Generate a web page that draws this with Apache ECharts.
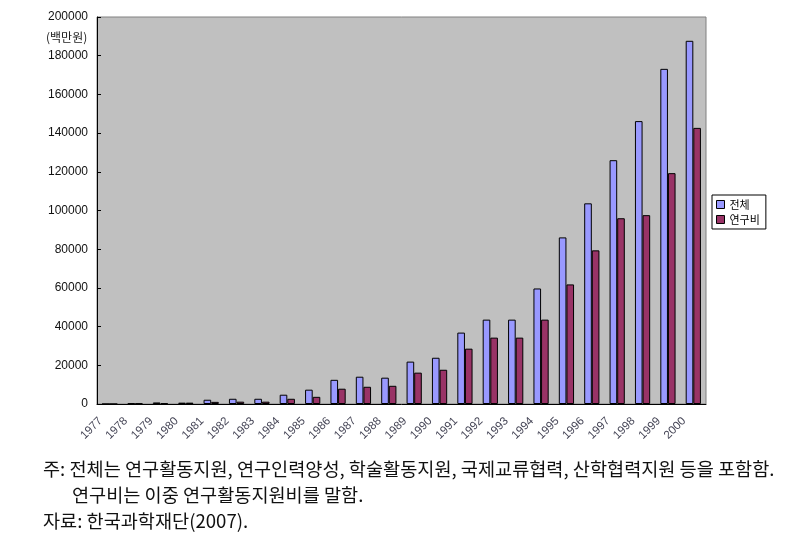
<!DOCTYPE html>
<html>
<head>
<meta charset="utf-8">
<script src="https://cdn.jsdelivr.net/npm/echarts@6/dist/echarts.min.js"></script>
<style>
html,body{margin:0;padding:0;background:#fff;}
#chart{width:800px;height:548px;}
</style>
</head>
<body>
<div id="chart"></div>
<script>
var years = ['1977','1978','1979','1980','1981','1982','1983','1984','1985','1986','1987','1988','1989','1990','1991','1992','1993','1994','1995','1996','1997','1998','1999','2000'];
var totalValues = [0, 400, 800, 700, 2200, 2700, 2700, 4800, 7400, 12500, 14100, 13600, 21900, 23900, 36900, 43600, 43600, 59700, 86100, 103700, 126000, 146200, 173200, 187700];
var researchValues = [0, 300, 400, 700, 1100, 1200, 1200, 2700, 3700, 7900, 8900, 9400, 16200, 17700, 28600, 34300, 34300, 43600, 61800, 79400, 96000, 97600, 119300, 142700];
var seriesNames = ['전체', '연구비'];
var unitLabel = '(백만원)';
var noteLines = [
  '주: 전체는 연구활동지원, 연구인력양성, 학술활동지원, 국제교류협력, 산학협력지원 등을 포함함.',
  '연구비는 이중 연구활동지원비를 말함.',
  '자료: 한국과학재단(2007).'
];

var chart = echarts.init(document.getElementById('chart'), null, {renderer: 'canvas'});
var kr = '"Noto Sans CJK KR", sans-serif';
var num = '"Liberation Sans", Arial, sans-serif';

chart.setOption({
  animation: false,
  backgroundColor: '#ffffff',
  grid: {
    left: 97, top: 17, right: 94, bottom: 144,
    show: true, backgroundColor: '#C0C0C0', borderColor: '#808080', borderWidth: 1
  },
  legend: {
    orient: 'vertical',
    left: 712, top: 195,
    data: seriesNames,
    backgroundColor: '#ffffff',
    borderColor: '#000000', borderWidth: 1,
    padding: [4, 6, 4, 4],
    itemWidth: 8, itemHeight: 8, itemGap: 4,
    icon: 'rect',
    itemStyle: {borderColor: '#000000', borderWidth: 1},
    textStyle: {fontFamily: kr, fontSize: 11, color: '#000'}
  },
  xAxis: {
    type: 'category',
    data: years,
    axisLine: {lineStyle: {color: '#000', width: 1}},
    axisTick: {inside: true, length: 4, lineStyle: {color: '#000'}},
    axisLabel: {
      interval: 0, rotate: 45, margin: 6,
      fontFamily: num, fontSize: 11.5, color: '#445',
      padding: [0, 13, 0, 0]
    },
    splitLine: {show: false}
  },
  yAxis: {
    type: 'value',
    min: 0, max: 200000, interval: 20000,
    axisLine: {show: true, lineStyle: {color: '#000', width: 1}},
    axisTick: {show: true, inside: true, length: 4, lineStyle: {color: '#000'}},
    axisLabel: {
      margin: 9, fontFamily: num, fontSize: 12, color: '#111',
      formatter: function (v) { return String(v); }
    },
    splitLine: {show: false}
  },
  series: [
    {
      name: seriesNames[0], type: 'bar', data: totalValues,
      barGap: '0%', barCategoryGap: '40%',
      itemStyle: {color: '#9999FF', borderColor: '#000', borderWidth: 1}
    },
    {
      name: seriesNames[1], type: 'bar', data: researchValues,
      barGap: '0%', barCategoryGap: '40%',
      itemStyle: {color: '#993366', borderColor: '#000', borderWidth: 1}
    }
  ],
  graphic: [
    {type: 'text', left: 46, top: 31, style: {text: unitLabel, fontFamily: kr, fontSize: 12, fill: '#222'}},
    {type: 'text', left: 43, top: 460, style: {text: noteLines[0], fontFamily: kr, fontSize: 18.6, fill: '#111'}},
    {type: 'text', left: 72, top: 486, style: {text: noteLines[1], fontFamily: kr, fontSize: 18.6, fill: '#111'}},
    {type: 'text', left: 43, top: 512, style: {text: noteLines[2], fontFamily: kr, fontSize: 18.6, fill: '#111'}}
  ]
});
</script>
</body>
</html>
